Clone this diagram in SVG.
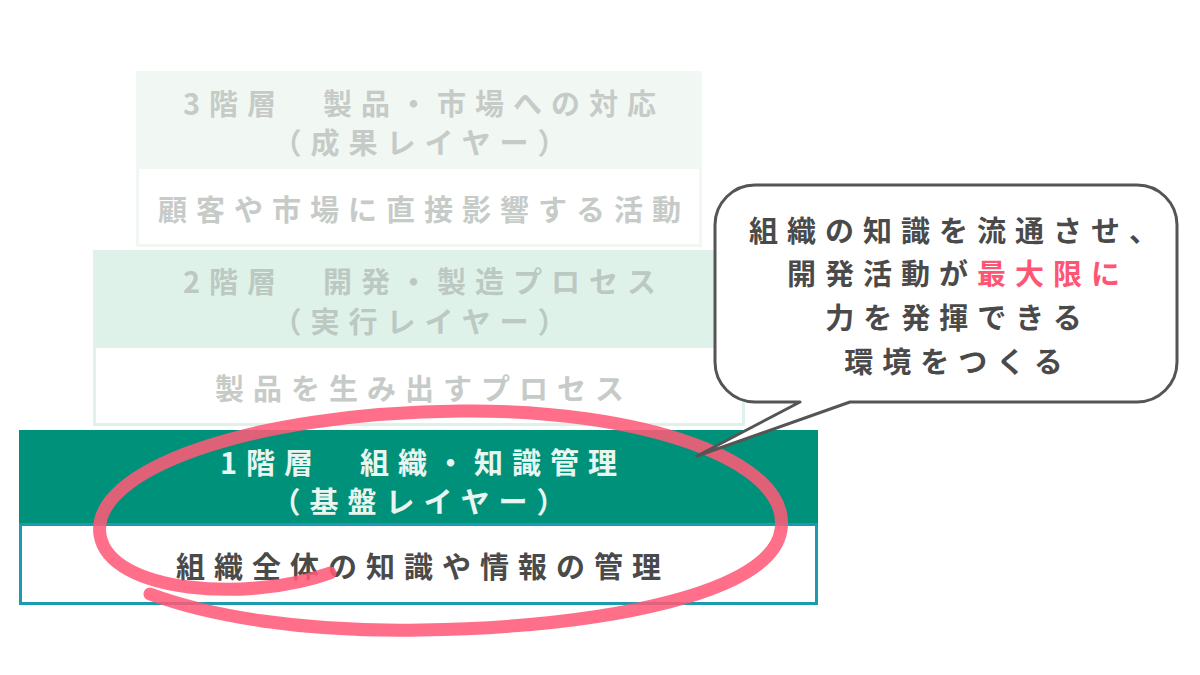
<svg xmlns="http://www.w3.org/2000/svg" width="1200" height="675" viewBox="0 0 1200 675">
<style>
.t{font-family:"Noto Sans CJK JP","Noto Sans CJK SC",sans-serif;font-weight:700;font-size:29px;letter-spacing:9px;text-anchor:middle;dominant-baseline:central}
.g3{fill:#c6cbc8}
.g2{fill:#bcc9c2}
.w{fill:#e9f6f0}
.d{fill:#4a4a4a}
.r{fill:#ff5574}
</style>
<rect width="1200" height="675" fill="#ffffff"/>
<g id="layer3">
<rect x="136" y="71" width="566" height="96" fill="#f1f8f3"/>
<rect x="137.5" y="167.5" width="563" height="78" fill="#ffffff" stroke="#f1f8f3" stroke-width="3"/>
<text class="t g3" x="424" y="102">3階層　製品・市場への対応</text>
<text class="t g3" x="424" y="141">（成果レイヤー）</text>
<text class="t g3" x="424" y="208">顧客や市場に直接影響する活動</text>
</g>
<g id="layer2">
<rect x="93" y="250" width="652" height="95" fill="#dff2ea"/>
<rect x="94.5" y="346.5" width="649" height="78" fill="#ffffff" stroke="#dff2ea" stroke-width="3"/>
<text class="t g2" x="424" y="280">2階層　開発・製造プロセス</text>
<text class="t g2" x="424" y="320">（実行レイヤー）</text>
<text class="t g3" x="424" y="387">製品を生み出すプロセス</text>
</g>
<g id="layer1">
<rect x="19" y="430" width="799" height="93" fill="#00917a"/>
<rect x="20.5" y="524.5" width="796" height="79" fill="#ffffff" stroke="#1a9bb0" stroke-width="3"/>
<text class="t w" x="423" y="461">1階層　組織・知識管理</text>
<text class="t w" x="423" y="500">（基盤レイヤー）</text>
<text class="t d" x="423" y="565">組織全体の知識や情報の管理</text>
</g>
<g id="connectors">
<path d="M330 573 C250 602 110 594 100 535 C90 470 250 413 460 411 C640 409 792 460 781 530 C772 592 610 627 420 630 C300 632 210 616 150 594" fill="none" stroke="#ff5a78" stroke-opacity="0.87" stroke-width="13" stroke-linecap="round"/>
</g>
<g id="bubble">
<path d="M755 185 H1137 A40 40 0 0 1 1177 225 V362 A40 40 0 0 1 1137 402 H850 L697 456 L800 402 H755 A40 40 0 0 1 715 362 V225 A40 40 0 0 1 755 185 Z" fill="#ffffff" stroke="#555555" stroke-width="3" stroke-linejoin="round"/>
<text class="t d" x="958" y="229">組織の知識を流通させ、</text>
<text class="t d" x="958" y="272">開発活動が<tspan class="r">最大限に</tspan></text>
<text class="t d" x="958" y="316">力を発揮できる</text>
<text class="t d" x="958" y="360">環境をつくる</text>
</g>
</svg>
